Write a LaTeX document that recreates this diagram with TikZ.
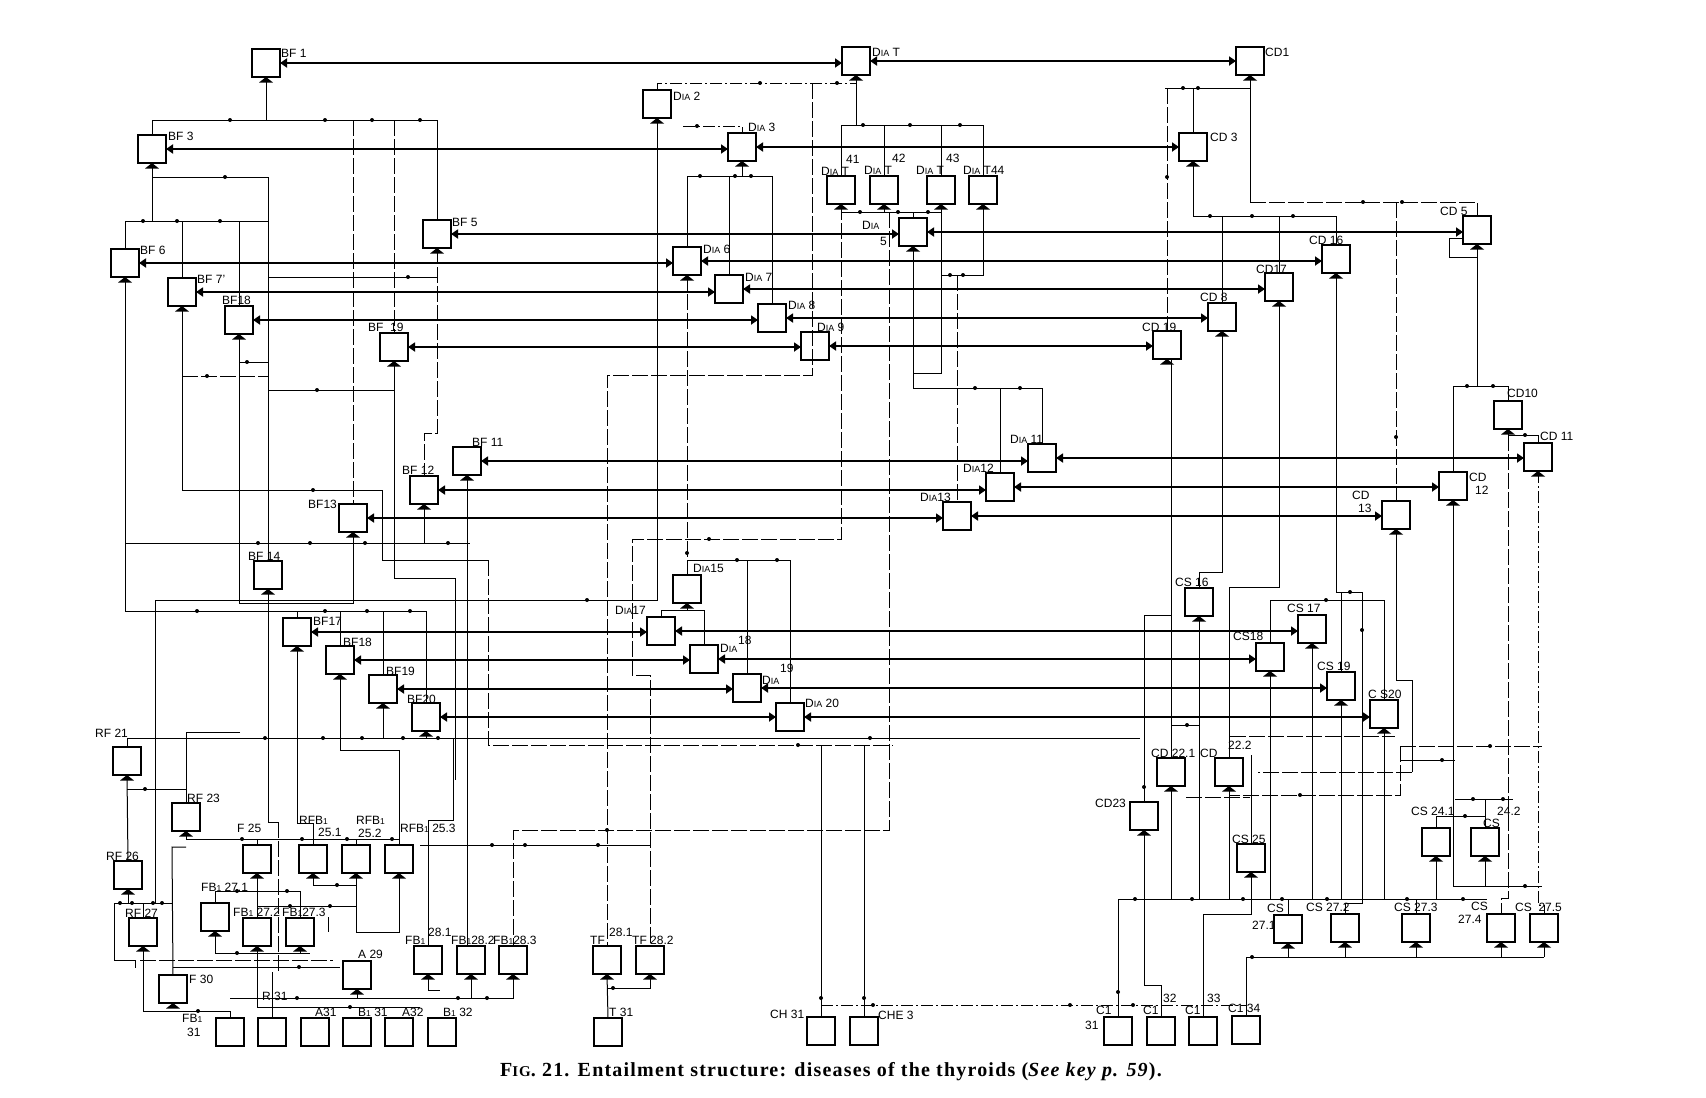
\documentclass[tikz,border=0pt]{standalone}
\usepackage{fontspec}
\setsansfont{Liberation Sans}
\newfontfamily\capfont[LetterSpace=6]{Liberation Serif}
\usetikzlibrary{arrows.meta}
\newcommand\dia{D{\fontsize{9}{9}\selectfont IA}}
\newcommand\sbi{{\fontsize{8.5}{9}\selectfont 1}}
\begin{document}
\begin{tikzpicture}[x=1pt,y=-1pt,
 box/.style={draw,line width=1.5pt,minimum size=28pt,inner sep=0pt,outer sep=0pt},
 lab/.style={font=\sffamily\fontsize{12}{13}\selectfont,inner sep=0pt,anchor=west},
 w/.style={line width=1pt},
 dl/.style={line width=1pt,dash pattern=on 16pt off 3pt},
 ddl/.style={line width=1pt,dash pattern=on 12pt off 3pt on 2pt off 3pt},
 bia/.style={line width=2pt,{Triangle[length=7pt,width=9pt]}-{Triangle[length=7pt,width=9pt]}}]
\fill[white] (0,0) rectangle (1706,1098);
\useasboundingbox (0,0) rectangle (1706,1098);

% ---------------- boxes
\node[box] (BF1) at (266,63) {};
\node[box] (DIAT) at (856,61) {};
\node[box] (CD1) at (1250,61) {};
\node[box] (DIA2) at (657,104) {};
\node[box] (BF3) at (152,149) {};
\node[box] (DIA3) at (742,147) {};
\node[box] (CD3) at (1193,147) {};
\node[box] (DIA41) at (841,190) {};
\node[box] (DIA42) at (884,190) {};
\node[box] (DIA43) at (941,190) {};
\node[box] (DIA44) at (983,190) {};
\node[box] (BF5) at (437,234) {};
\node[box] (DIA5) at (913,232) {};
\node[box] (CD5) at (1477,230) {};
\node[box] (BF6) at (125,263) {};
\node[box] (DIA6) at (687,261) {};
\node[box] (CD16) at (1336,259) {};
\node[box] (BF7) at (182,292) {};
\node[box] (DIA7) at (729,289) {};
\node[box] (CD17) at (1279,287) {};
\node[box] (BF18) at (239,320) {};
\node[box] (DIA8) at (772,318) {};
\node[box] (CD8) at (1222,317) {};
\node[box] (BF19) at (394,347) {};
\node[box] (DIA9) at (815,346) {};
\node[box] (CD19) at (1167,345) {};
\node[box] (CD10) at (1508,415) {};
\node[box] (BF11) at (467,461) {};
\node[box] (DIA11) at (1042,458) {};
\node[box] (CD11) at (1538,457) {};
\node[box] (BF12) at (424,490) {};
\node[box] (DIA12) at (1000,487) {};
\node[box] (CD12) at (1453,486) {};
\node[box] (BF13) at (353,518) {};
\node[box] (DIA13) at (957,516) {};
\node[box] (CD13) at (1396,515) {};
\node[box] (BF14) at (268,575) {};
\node[box] (DIA15) at (687,589) {};
\node[box] (CS16) at (1199,602) {};
\node[box] (BF17) at (297,632) {};
\node[box] (DIA17) at (661,631) {};
\node[box] (CS17) at (1312,629) {};
\node[box] (BF18b) at (340,660) {};
\node[box] (DIA18) at (704,659) {};
\node[box] (CS18) at (1270,657) {};
\node[box] (BF19b) at (383,689) {};
\node[box] (DIA19) at (747,688) {};
\node[box] (CS19) at (1341,686) {};
\node[box] (BF20) at (426,717) {};
\node[box] (DIA20) at (790,717) {};
\node[box] (CS20) at (1384,714) {};
\node[box] (RF21) at (127,761) {};
\node[box] (CD221) at (1171,772) {};
\node[box] (CD222) at (1229,772) {};
\node[box] (RF23) at (186,817) {};
\node[box] (CD23) at (1144,816) {};
\node[box] (CS241) at (1436,842) {};
\node[box] (CS242) at (1485,842) {};
\node[box] (F25) at (257,859) {};
\node[box] (RFB251) at (313,859) {};
\node[box] (RFB252) at (356,859) {};
\node[box] (RFB253) at (399,859) {};
\node[box] (CS25) at (1251,858) {};
\node[box] (RF26) at (128,875) {};
\node[box] (FB271) at (215,917) {};
\node[box] (RF27) at (143,932) {};
\node[box] (FB272) at (257,932) {};
\node[box] (FB273) at (300,932) {};
\node[box] (CS271) at (1288,929) {};
\node[box] (CS272) at (1345,928) {};
\node[box] (CS273) at (1416,928) {};
\node[box] (CS274) at (1501,928) {};
\node[box] (CS275) at (1544,928) {};
\node[box] (FB281) at (428,960) {};
\node[box] (FB282) at (471,960) {};
\node[box] (FB283) at (513,960) {};
\node[box] (TF281) at (607,960) {};
\node[box] (TF282) at (650,960) {};
\node[box] (A29) at (357,975) {};
\node[box] (F30) at (173,989) {};
\node[box] (FB31) at (230,1032) {};
\node[box] (R31) at (272,1032) {};
\node[box] (A31) at (315,1032) {};
\node[box] (B31) at (357,1032) {};
\node[box] (A32) at (399,1032) {};
\node[box] (B32) at (442,1032) {};
\node[box] (T31) at (608,1032) {};
\node[box] (CH31) at (821,1031) {};
\node[box] (CHE3) at (864,1031) {};
\node[box] (C131) at (1118,1031) {};
\node[box] (C132) at (1161,1031) {};
\node[box] (C133) at (1203,1031) {};
\node[box] (C134) at (1246,1030) {};

% ---------------- entry marks under boxes
\foreach \n in {BF1,DIAT,CD1,DIA2,BF3,DIA3,CD3,DIA41,DIA42,DIA43,DIA44,BF5,DIA5,CD5,BF6,DIA6,CD16,BF7,CD17,BF18,CD8,BF19,CD19,CD10,BF11,CD11,BF12,CD12,BF13,CD13,BF14,DIA15,CS16,BF17,CS17,BF18b,CS18,BF19b,CS19,BF20,CS20,RF21,CD221,CD222,RF23,CD23,CS241,CS242,F25,RFB251,RFB252,RFB253,CS25,RF26,FB271,RF27,FB272,FB273,CS271,CS272,CS273,CS274,CS275,FB281,FB282,FB283,TF281,TF282,A29,F30}
  \fill (\n.south) -- ++(-7,5.5) -- ++(14,0) -- cycle;

% ---------------- main thick lines
\foreach \l/\m/\r in {BF1/DIAT/CD1,BF3/DIA3/CD3,BF5/DIA5/CD5,BF6/DIA6/CD16,BF7/DIA7/CD17,BF18/DIA8/CD8,BF19/DIA9/CD19,BF11/DIA11/CD11,BF12/DIA12/CD12,BF13/DIA13/CD13,BF17/DIA17/CS17,BF18b/DIA18/CS18,BF19b/DIA19/CS19,BF20/DIA20/CS20}{
  \draw[bia] (\l.east) -- (\m.west |- \l.east);
  \draw[bia] (\m.east) -- (\r.west |- \m.east);
}

% ---------------- upper left wires
\draw[w] (BF1.south) -- (266,120);
\draw[w] (BF3.north) -- (152,120) -- (437,120) -- (BF5.north);
\draw[dl] (BF13.north |- 0,120) -- (BF13.north);
\draw[dl] (BF19.north |- 0,120) -- (BF19.north);
\draw[w] (BF3.south) -- (152,221);
\draw[w] (152,177) -- (268,177) -- (BF14.north);
\draw[w] (BF6.north) -- (125,221) -- (268,221);
\draw[w] (BF7.north) -- (BF7.north |- 0,221);
\draw[w] (BF18.north) -- (BF18.north |- 0,221);
\draw[w] (268,277) -- (437,277);
\draw[dl] (BF5.south) -- (437,433) -- (424,433) -- (BF12.north);
\draw[w] (BF6.south) -- (125,611) -- (426,611) -- (BF20.north);
\draw[w] (BF17.north) -- (BF17.north |- 0,611);
\draw[w] (BF18b.north) -- (BF18b.north |- 0,611);
\draw[w] (BF19b.north) -- (BF19b.north |- 0,611);
\draw[w] (BF7.south) -- (182,490) -- (382,490) -- (382,560) -- (488,560);
\draw[dl] (488,560) -- (488,745) -- (893,745);
\draw[w] (BF18.south) -- (239,603) -- (353,603) -- (BF13.south);
\draw[w] (239,362) -- (268,362);
\draw[dl] (182,376) -- (268,376);
\draw[w] (268,390) -- (394,390);
\draw[w] (BF19.south) -- (394,578) -- (455,578) -- (455,780);
\draw[w] (125,543) -- (470,543);
\draw[w] (BF12.south) -- (424,543);
\draw[w] (155,903) -- (155,600) -- (657,600) -- (DIA2.south);
\draw[w] (BF11.south) -- (BF11.south |- FB282.north);
\draw[w] (BF14.south) -- (268,822) -- (278,822);
\draw[dl] (278,822) -- (278,972);

% ---------------- DIA cluster
\draw[w] (DIAT.south) -- (856,125);
\draw[w] (DIA41.north) -- (841,125) -- (983,125) -- (DIA44.north);
\draw[w] (DIA42.north) -- (884,125);
\draw[w] (DIA43.north) -- (941,125);
\draw[ddl] (DIA2.north) -- (657,83) -- (856,83);
\draw[ddl] (683,126) -- (742,126) -- (DIA3.north);
\draw[dl] (812,83) -- (812,375) -- (607,375) -- (TF281.north);
\draw[w] (DIA3.south) -- (742,176);
\draw[w] (DIA6.north) -- (687,176) -- (772,176) -- (DIA8.north);
\draw[w] (DIA7.north) -- (729,176);
\draw[dl] (DIA6.south) -- (DIA15.north);
\draw[w] (687,560) -- (790,560) -- (DIA20.north);
\draw[w] (DIA19.north |- 0,560) -- (DIA19.north);
\draw[w] (DIA17.north) -- (661,610) -- (704,610) -- (DIA18.north);
\draw[w] (DIA15.south) -- (687,610);
\draw[dl] (DIA41.south) -- (841,539) -- (632,539) -- (632,675) -- (650,675) -- (TF282.north);
\draw[w] (DIA41.south) -- (841,212) -- (941,212);
\draw[w] (DIA42.south) -- (884,212);
\draw[w] (DIA43.south) -- (941,212);
\draw[w] (913,212) -- (DIA5.north);
\draw[dl] (889,212) -- (889,830) -- (513,830) -- (FB283.north);
\draw[w] (941,212) -- (941,373) -- (913,373);
\draw[w] (DIA5.south) -- (913,388) -- (1042,388) -- (DIA11.north);
\draw[w] (DIA12.north |- 0,388) -- (DIA12.north);
\draw[w] (DIA44.south) -- (983,275) -- (941,275);
\draw[dl] (DIA13.north |- 0,275) -- (DIA13.north);

% ---------------- bottom middle
\draw[w] (CH31.north |- 0,745) -- (CH31.north);
\draw[w] (CHE3.north |- 0,745) -- (CHE3.north);
\draw[ddl] (CH31.north |- 0,1005) -- (1246,1005);
\draw[w] (TF281.south) -- (T31.north);
\draw[w] (607,988) -- (650,988) -- (TF282.south);
\draw[w] (420,845) -- (650,845);
\draw[w] (230,998) -- (513,998) -- (FB283.south);
\draw[w] (FB282.south) -- (471,998);
\draw[w] (FB281.south) -- (428,990) -- (440,990);

% ---------------- lower left
\draw[w] (RF21.north) -- (127,738) -- (1140,738);
\draw[w] (RF21.south) -- (RF26.north);
\draw[w] (127,789) -- (186,789);
\draw[w] (240,732) -- (186,732) -- (RF23.north);
\draw[w] (RF23.south) -- (186,839) -- (399,839) -- (RFB253.north);
\draw[w] (F25.north |- 0,839) -- (F25.north);
\draw[w] (RFB251.north |- 0,839) -- (RFB251.north);
\draw[w] (RFB252.north |- 0,839) -- (RFB252.north);
\draw[w] (F30.north) -- (172,847) -- (186,847);
\draw[w] (RF26.south) -- (128,903);
\draw[w] (114,903) -- (172,903);
\draw[w] (RF27.north) -- (143,903);
\draw[w] (114,903) -- (114,960) -- (135,960) -- (135,968);
\draw[w] (RF27.south) -- (143,1011) -- (230,1011) -- (FB31.north);
\draw[w] (173,967) -- (340,967);
\draw[dl] (140,960) -- (333,960);
\draw[w] (F25.south) -- (FB272.north);
\draw[w] (FB271.north) -- (215,891) -- (300,891) -- (FB273.north);
\draw[w] (257,906) -- (356,906);
\draw[w] (FB271.south) -- (215,953) -- (310,953);
\draw[w] (FB273.south) -- (300,953);
\draw[w] (FB272.south) -- (257,1007) -- (420,1007);
\draw[w] (R31.north) -- (272,972);
\draw[w] (A29.south) -- (357,998);
\draw[w] (RFB251.south) -- (313,885) -- (356,885);
\draw[w] (RFB252.south) -- (356,932) -- (399,932) -- (RFB253.south);
\draw[w] (328,917) -- (328,932);
\draw[w] (BF17.south) -- (297,823) -- (313,823) -- (RFB251.north);
\draw[w] (BF18b.south) -- (340,750) -- (399,750) -- (RFB253.north);
\draw[w] (BF19b.south) -- (383,738);
\draw[w] (BF20.south) -- (426,738);
\draw[w] (FB281.north) -- (428,820) -- (453,820) -- (453,738);

% ---------------- right side
\draw[w] (CD1.south) -- (1250,202);
\draw[dl] (1250,202) -- (1477,202) -- (CD5.north);
\draw[w] (1165,88) -- (1250,88);
\draw[w] (CD3.north) -- (1193,88);
\draw[dl] (CD19.north |- 0,88) -- (CD19.north);
\draw[w] (CD3.south) -- (1193,216) -- (1336,216) -- (CD16.north);
\draw[w] (CD17.north |- 0,216) -- (CD17.north);
\draw[w] (CD8.north |- 0,216) -- (CD8.north);
\draw[dl] (CD13.north |- 0,202) -- (CD13.north);
\draw[w] (1463,238) -- (1449,238) -- (1449,257) -- (1477,257);
\draw[w] (CD5.south) -- (1477,386);
\draw[w] (CD12.north) -- (1453,386) -- (1508,386) -- (CD10.north);
\draw[w] (CD10.south) -- (1508,435) -- (1538,435) -- (CD11.north);
\draw[dl] (1508,435) -- (1508,898) -- (1501,898) -- (CS274.north);
\draw[ddl] (CD11.south) -- (1538,905) -- (1544,905) -- (CS275.north);
\draw[w] (CD12.south) -- (1453,886) -- (1542,886);
\draw[w] (CD13.south) -- (1396,680) -- (1412,680) -- (1412,772);
\draw[dl] (1412,772) -- (1258,772);
\draw[w] (CD16.south) -- (1336,592) -- (1362,592) -- (1362,903) -- (1345,903) -- (CS272.north);
\draw[w] (1341,592) -- (CS19.north);
\draw[w] (CD17.south) -- (1279,587) -- (1229,587) -- (CD222.north);
\draw[w] (CD8.south) -- (1222,572) -- (1199,572) -- (CS16.north);
\draw[w] (CD221.north |- CD19.south) -- (CD221.north);
\draw[w] (1171,615) -- (1144,615) -- (CD23.north);
\draw[w] (1171,725) -- (1199,725);
\draw[w] (CS16.south) -- (1199,899);
\draw[w] (1118,899) -- (1487,899);
\draw[w] (CD23.south) -- (1144,985) -- (1161,985) -- (C132.north);
\draw[w] (CD221.south) -- (1171,899);
\draw[w] (CD222.south) -- (1229,899);
\draw[w] (1118,899) -- (C131.north);
\foreach \n in {CS18,CS17,CS19,CS20,CS241} \draw[w] (\n.south) -- (\n.south |- 0,899);
\draw[w] (CS242.south) -- (1485,886);
\draw[w] (CS271.north |- 0,899) -- (CS271.north);
\draw[w] (CS273.north |- 0,899) -- (CS273.north);
\draw[w] (1251,755) -- (CS25.north);
\draw[w] (CS25.south) -- (1251,914) -- (1203,914) -- (C133.north);
\draw[w] (C134.north) -- (1246,957) -- (1544,957);
\foreach \n in {CS271,CS272,CS273,CS274,CS275} \draw[w] (\n.south) -- (\n.south |- 0,957);
\draw[w] (1270,600) -- (1384,600);
\draw[w] (CS18.north |- 0,600) -- (CS18.north);
\draw[w] (CS20.north |- 0,600) -- (CS20.north);
\draw[dl] (1230,736) -- (1395,736);
\draw[dl] (1400,746) -- (1542,746);
\draw[dl] (1400,746) -- (1400,795) -- (1230,795);
\draw[w] (1400,760) -- (1455,760);
\draw[w] (1455,799) -- (1513,799);
\draw[w] (1485,799) -- (1485,816) -- (1436,816) -- (CS241.north);
\draw[w] (1485,816) -- (CS242.north);
\draw[dl] (1186,797) -- (1250,797);

% ---------------- junction dots
\foreach \p in {(230,120),(325,120),(372,120),(420,120),(225,177),(143,221),(177,221),(220,221),(408,277),
 (197,611),(325,611),(367,611),(410,611),(313,490),(798,745),(247,362),(207,376),(317,390),
 (258,543),(310,543),(365,543),(448,543),(587,600),(863,125),(910,125),(960,125),(760,83),(837,83),(697,126),
 (700,176),(735,176),(751,176),(687,553),(737,560),(777,560),(709,539),(860,212),(898,212),(928,212),
 (607,830),(975,388),(1020,388),(950,275),(963,275),(821,998),(864,998),(873,1005),(1070,1005),(1133,1005),
 (613,988),(492,845),(525,845),(598,845),(297,998),(458,998),(487,998),
 (265,738),(323,738),(362,738),(403,738),(438,738),(870,738),(145,789),(242,839),(302,839),(347,839),(392,839),
 (120,903),(132,903),(153,903),(162,903),(198,1011),(299,967),(287,891),(237,891),(290,906),(330,906),(237,953),
 (350,1007),(337,885),(1183,88),(1198,88),(1167,177),(1210,216),(1252,216),(1293,216),(1363,202),(1402,202),
 (1396,437),(1467,386),(1493,386),(1525,435),(1525,886),(1362,630),(1350,592),(1144,787),(1187,725),
 (1135,899),(1192,899),(1243,899),(1282,899),(1327,899),(1407,899),(1463,899),(1118,992),(1252,957),
 (1490,746),(1300,795),(1442,760),(1473,799),(1503,799),(1465,816),(1326,600)}
  \fill \p circle (2);

% ---------------- labels
\node[lab] (lBF1) at (281,53) {BF 1};
\node[lab] (lDIAT) at (872,52) {\dia\ T};
\node[lab] (lCD1) at (1265,52) {CD1};
\node[lab] (lDIA2) at (673,96) {\dia\ 2};
\node[lab] (lBF3) at (168,136) {BF 3};
\node[lab] (lDIA3) at (748,127) {\dia\ 3};
\node[lab] (lCD3) at (1210,137) {CD 3};
\node[lab] (lDIA41) at (821,171) {\dia\ T};
\node[lab] (lDIA41n) at (846,159) {41};
\node[lab] (lDIA42) at (864,170) {\dia\ T};
\node[lab] (lDIA42n) at (892,158) {42};
\node[lab] (lDIA43) at (916,170) {\dia\ T};
\node[lab] (lDIA43n) at (946,158) {43};
\node[lab] (lDIA44) at (963,170) {\dia\ T44};
\node[lab] (lBF5) at (452,222) {BF 5};
\node[lab] (lDIA5) at (862,225) {\dia};
\node[lab] (lDIA5n) at (880,241) {5};
\node[lab] (lCD5) at (1440,211) {CD 5};
\node[lab] (lBF6) at (140,250) {BF 6};
\node[lab] (lDIA6) at (703,249) {\dia\ 6};
\node[lab] (lCD16) at (1309,240) {CD 16};
\node[lab] (lBF7) at (197,279) {BF 7'};
\node[lab] (lDIA7) at (745,277) {\dia\ 7};
\node[lab] (lCD17) at (1256,269) {CD17};
\node[lab] (lBF18) at (222,300) {BF18};
\node[lab] (lDIA8) at (788,305) {\dia\ 8};
\node[lab] (lCD8) at (1200,297) {CD 8};
\node[lab] (lBF19) at (368,327) {BF\ \ 19};
\node[lab] (lDIA9) at (817,327) {\dia\ 9};
\node[lab] (lCD19) at (1142,327) {CD 19};
\node[lab] (lCD10) at (1507,393) {CD10};
\node[lab] (lBF11) at (472,442) {BF 11};
\node[lab] (lDIA11) at (1010,439) {\dia\ 11};
\node[lab] (lCD11) at (1540,436) {CD 11};
\node[lab] (lBF12) at (402,470) {BF 12};
\node[lab] (lDIA12) at (963,468) {\dia 12};
\node[lab] (lCD12) at (1469,477) {CD};
\node[lab] (lCD12n) at (1475,490) {12};
\node[lab] (lBF13) at (308,504) {BF13};
\node[lab] (lDIA13) at (920,497) {\dia 13};
\node[lab] (lCD13) at (1352,495) {CD};
\node[lab] (lCD13n) at (1358,508) {13};
\node[lab] (lBF14) at (248,556) {BF 14};
\node[lab] (lDIA15) at (693,568) {\dia 15};
\node[lab] (lCS16) at (1175,582) {CS 16};
\node[lab] (lBF17) at (313,621) {BF17};
\node[lab] (lDIA17) at (615,610) {\dia 17};
\node[lab] (lCS17) at (1287,608) {CS 17};
\node[lab] (lBF18b) at (343,642) {BF18};
\node[lab] (lDIA18) at (720,648) {\dia};
\node[lab] (lDIA18n) at (738,640) {18};
\node[lab] (lCS18) at (1233,636) {CS18};
\node[lab] (lBF19b) at (386,671) {BF19};
\node[lab] (lDIA19) at (762,680) {\dia};
\node[lab] (lDIA19n) at (780,668) {19};
\node[lab] (lCS19) at (1317,666) {CS 19};
\node[lab] (lBF20) at (407,699) {BF20};
\node[lab] (lDIA20) at (805,703) {\dia\ 20};
\node[lab] (lCS20) at (1368,694) {C S20};
\node[lab] (lRF21) at (95,733) {RF 21};
\node[lab] (lCD221) at (1151,753) {CD 22.1};
\node[lab] (lCD222) at (1200,753) {CD};
\node[lab] (lCD222n) at (1228,745) {22.2};
\node[lab] (lRF23) at (187,798) {RF 23};
\node[lab] (lCD23) at (1095,803) {CD23};
\node[lab] (lCS241) at (1411,811) {CS 24.1};
\node[lab] (lCS242) at (1497,811) {24.2};
\node[lab] (lCS242b) at (1483,823) {CS};
\node[lab] (lF25) at (237,828) {F 25};
\node[lab] (lRFB251) at (299,820) {RFB\sbi};
\node[lab] (lRFB251n) at (318,832) {25.1};
\node[lab] (lRFB252) at (356,820) {RFB\sbi};
\node[lab] (lRFB252n) at (358,833) {25.2};
\node[lab] (lRFB253) at (400,828) {RFB\sbi\ 25.3};
\node[lab] (lCS25) at (1232,839) {CS 25};
\node[lab] (lRF26) at (106,856) {RF 26};
\node[lab] (lFB271) at (201,887) {FB\sbi\ 27.1};
\node[lab] (lRF27) at (125,913) {RF 27};
\node[lab] (lFB272) at (233,912) {FB\sbi\ 27.2};
\node[lab] (lFB273) at (282,912) {FB\sbi 27.3};
\node[lab] (lCS271) at (1267,908) {CS};
\node[lab] (lCS271n) at (1252,925) {27.1};
\node[lab] (lCS272) at (1306,907) {CS 27.2};
\node[lab] (lCS273) at (1394,907) {CS 27.3};
\node[lab] (lCS274) at (1471,906) {CS};
\node[lab] (lCS274n) at (1458,919) {27.4};
\node[lab] (lCS275) at (1515,907) {CS\ \ 27.5};
\node[lab] (lFB281) at (405,940) {FB\sbi};
\node[lab] (lFB281n) at (428,932) {28.1};
\node[lab] (lFB282) at (451,940) {FB\sbi 28.2};
\node[lab] (lFB283) at (493,940) {FB\sbi 28.3};
\node[lab] (lTF281) at (590,940) {TF};
\node[lab] (lTF281n) at (609,932) {28.1};
\node[lab] (lTF282) at (632,940) {TF 28.2};
\node[lab] (lA29) at (358,954) {A 29};
\node[lab] (lF30) at (189,979) {F 30};
\node[lab] (lFB31) at (182,1018) {FB\sbi};
\node[lab] (lFB31n) at (187,1032) {31};
\node[lab] (lR31) at (262,996) {R 31};
\node[lab] (lA31) at (315,1012) {A31};
\node[lab] (lB31) at (358,1012) {B\sbi\ 31};
\node[lab] (lA32) at (402,1012) {A32};
\node[lab] (lB32) at (443,1012) {B\sbi\ 32};
\node[lab] (lT31) at (609,1012) {T 31};
\node[lab] (lCH31) at (770,1014) {CH 31};
\node[lab] (lCHE3) at (878,1015) {CHE 3};
\node[lab] (lC131) at (1096,1010) {C1};
\node[lab] (lC131n) at (1085,1025) {31};
\node[lab] (lC132) at (1143,1010) {C1};
\node[lab] (lC132n) at (1163,998) {32};
\node[lab] (lC133) at (1185,1010) {C1};
\node[lab] (lC133n) at (1207,998) {33};
\node[lab] (lC134) at (1228,1008) {C1 34};

% ---------------- caption
\node[inner sep=0pt,font=\capfont\bfseries\fontsize{20}{22}\selectfont] (caption) at (831,1072)
  {F{\fontsize{15}{16}\selectfont IG}. 21. Entailment structure: diseases of the thyroids (\textit{See key p. 59}).};
\end{tikzpicture}
\end{document}
